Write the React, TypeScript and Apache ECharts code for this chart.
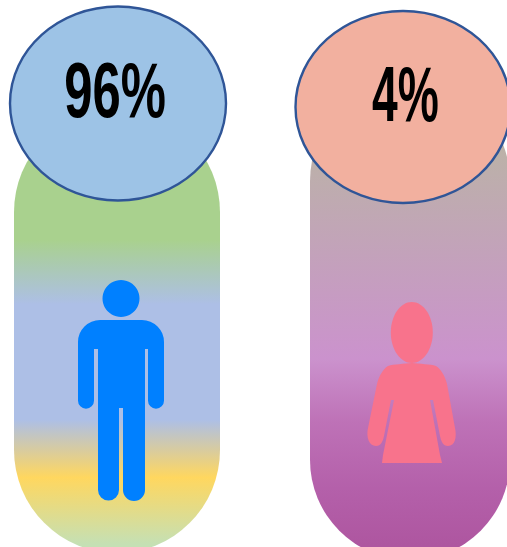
import React, { useEffect, useRef } from "react";
import * as echarts from "echarts";

// Share of each group shown in the two capsules
const groups = ["male", "female"];
const shares = [96, 4];
const shareLabels = shares.map((v) => `${v}%`);

const MAN_PATH =
  "M100 320 H142 A22 22 0 0 1 164 342 V400.7 A8 8 0 0 1 148 400.7 V349 H145 V490 A11 11 0 0 1 123 490 V408 H119 V490 A10.5 10.5 0 0 1 98 490 V349 H94 V400.7 A8 8 0 0 1 78 400.7 V342 A22 22 0 0 1 100 320 Z";
const WOMAN_PATH =
  "M412 363 C420 364 430 364 436 366 C441 369 445 376 447 384 L455 428 C457 437 455 446 448 446 C443 446 441 441 440 436 L433 400 L430 400 L440 455 L442 463 L382 463 L383 455 L394 400 L391 400 L384 436 C383 441 381 446 376 446 C369 446 366 437 368 428 L377 384 C379 376 383 369 388 366 C394 364 404 364 412 363 Z";

echarts.graphic.registerShape("manIcon", echarts.graphic.extendPath(MAN_PATH, {}));
echarts.graphic.registerShape("womanIcon", echarts.graphic.extendPath(WOMAN_PATH, {}));

const vGradient = (stops: [number, string][]) =>
  new echarts.graphic.LinearGradient(
    0, 0, 0, 1,
    stops.map(([offset, color]) => ({ offset, color }))
  );

const ELLIPSE_STROKE = "#2f5597";
const LABEL_FONT = 'bold 77px "Liberation Sans", Arial, sans-serif';

export default function App() {
  const ref = useRef<HTMLDivElement>(null);

  useEffect(() => {
    if (!ref.current) return;
    const chart = echarts.init(ref.current, undefined, { renderer: "svg" });
    chart.setOption({
      animation: false,
      backgroundColor: "#ffffff",
      graphic: {
        elements: [
          {
            type: "rect",
            id: `${groups[0]}-capsule`,
            shape: { x: 14, y: 109, width: 206, height: 444, r: 103 },
            style: {
              fill: vGradient([
                [0, "#a9d18e"],
                [0.295, "#a9d18e"],
                [0.44, "#adbfe6"],
                [0.7, "#adbfe6"],
                [0.83, "#ffd75f"],
                [0.98, "#c5e0b4"],
                [1, "#c5e0b4"],
              ]),
            },
          },
          {
            type: "rect",
            id: `${groups[1]}-capsule`,
            shape: { x: 310, y: 81, width: 200, height: 479, r: 100 },
            style: {
              fill: vGradient([
                [0, "#b6bc9c"],
                [0.58, "#cb92cd"],
                [0.71, "#be72b7"],
                [0.85, "#b460aa"],
                [0.97, "#ae56a0"],
                [1, "#ae56a0"],
              ]),
            },
          },
          {
            type: "circle",
            shape: { cx: 121, cy: 298.5, r: 18.5 },
            style: { fill: "#0080ff" },
          },
          { type: "manIcon", x: 0, y: 0, style: { fill: "#0080ff" } },
          {
            type: "ellipse",
            shape: { cx: 411.8, cy: 332.5, rx: 21, ry: 30.5 },
            style: { fill: "#f8738c" },
          },
          { type: "womanIcon", x: 0, y: 0, style: { fill: "#f8738c" } },
          {
            type: "ellipse",
            shape: { cx: 118, cy: 103.5, rx: 108, ry: 97 },
            style: { fill: "#9dc3e6", stroke: ELLIPSE_STROKE, lineWidth: 2.4 },
          },
          {
            type: "ellipse",
            shape: { cx: 403, cy: 107, rx: 107.5, ry: 96 },
            style: { fill: "#f2b09f", stroke: ELLIPSE_STROKE, lineWidth: 2.4 },
          },
          {
            type: "text",
            x: 115,
            y: 90,
            scaleX: 0.66,
            style: {
              text: shareLabels[0],
              font: LABEL_FONT,
              fill: "#000000",
              textAlign: "center",
              textVerticalAlign: "middle",
            },
          },
          {
            type: "text",
            x: 405.5,
            y: 94,
            scaleX: 0.6,
            style: {
              text: shareLabels[1],
              font: LABEL_FONT,
              fill: "#000000",
              textAlign: "center",
              textVerticalAlign: "middle",
            },
          },
        ],
      },
    });
    return () => chart.dispose();
  }, []);

  return (
    <div
      ref={ref}
      style={{ position: "absolute", left: 0, top: 0, width: 507, height: 547, overflow: "hidden" }}
    />
  );
}
